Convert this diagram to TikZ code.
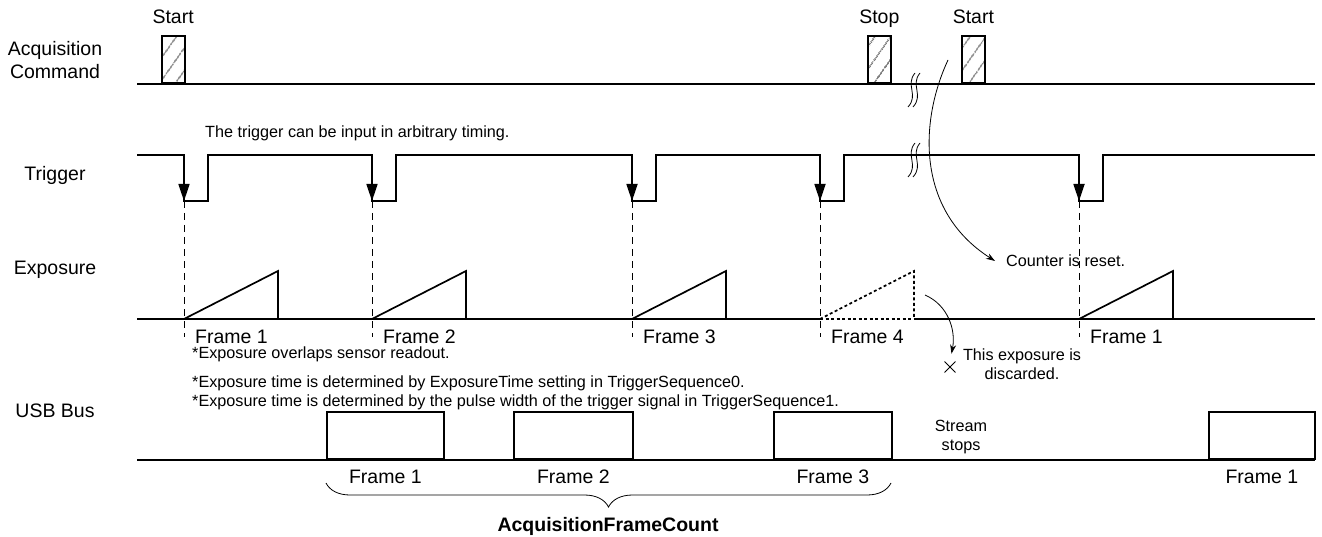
\documentclass[tikz,border=0pt]{standalone}
\usepackage{fontspec}
\setmainfont{Liberation Sans}
\usetikzlibrary{arrows.meta,positioning,patterns.meta,shapes.misc,decorations.pathreplacing}

\newcommand{\bigtxt}{\fontsize{19.5}{23}\selectfont}
\newcommand{\smalltxt}{\fontsize{16.2}{19}\selectfont}
% wavy break mark across a signal line
\newcommand{\brkmark}[2]{%
  \foreach \d in {0,5}
    \draw[brk] (#1+\d-5,#2+17) .. controls (#1+\d+6,#2+5) and (#1+\d-8,#2-5) .. (#1+\d+2,#2-17);}
% exposure ramp
\newcommand{\ramp}[2][sig]{\draw[#1] (#2,319) -- ++(94,-48) -- ++(0,48);}

\begin{document}
\begin{tikzpicture}[x=1pt, y=-1pt,
    sig/.style={line width=1.7pt},
    dots/.style={line width=1.7pt, dash pattern=on 3pt off 2.5pt},
    guide/.style={line width=0.9pt, dash pattern=on 7pt off 5pt},
    lbl/.style={font=\bigtxt, align=center, inner sep=0pt},
    note/.style={font=\smalltxt, align=center, inner sep=0pt},
    cmdpulse/.style={draw, line width=1.7pt, minimum width=23pt, minimum height=47pt, anchor=south west, inner sep=0pt,
      pattern={Lines[angle=55,distance=13pt,line width=1.3pt]}, pattern color=gray},
    usbframe/.style={draw, line width=1.7pt, minimum height=47pt, anchor=south west, inner sep=0pt},
    trig/.style={line width=1.7pt, -{Triangle[length=17pt,width=11pt]}},
    callout/.style={line width=0.8pt, -{Stealth[length=9pt,width=6pt]}},
    brk/.style={line width=0.8pt}
]
\useasboundingbox (0,0) rectangle (1322,537);

% Row labels
\node[lbl] (cmdlbl) at (55,60) {Acquisition\\Command};
\node[lbl] (triglbl) at (55,175) {Trigger};
\node[lbl] (explbl) at (55,270) {Exposure};
\node[lbl] (usblbl) at (55,411) {USB Bus};

% Acquisition command
\draw[sig] (137,84) -- (1315,84);
\node[cmdpulse] (start1) at (161,84) {};
\node[cmdpulse] (stop) at (867,84) {};
\node[cmdpulse] (start2) at (961,84) {};
\node[lbl, text depth=0pt, above=12pt of start1] (start1lbl) {Start};
\node[lbl, text depth=0pt, above=12pt of stop] (stoplbl) {Stop};
\node[lbl, text depth=0pt, above=12pt of start2] (start2lbl) {Start};
\brkmark{913}{90}

% Trigger
\draw[sig] (137,155) \foreach \x in {184,372,632,820,1079} { -- (\x,155) -- (\x,201) -- (\x+24,201) -- (\x+24,155) } -- (1315,155);
\foreach \x in {184,372,632,820,1079} {
  \draw[trig] (\x,155) -- (\x,201);
  \draw[guide] (\x,201) -- (\x,337);
}
\brkmark{913}{160}
\node[note, anchor=base west] (arb) at (205,138) {The trigger can be input in arbitrary timing.};

% Exposure
\draw[sig] (137,319) -- (820,319) (914,319) -- (1315,319);
\draw[dots] (820,319) -- (914,319);
\foreach \x in {184,372,632,1079} {\ramp{\x}}
\ramp[dots]{820}
\foreach \x/\n in {184/1,372/2,632/3,820/4,1079/1}
  \node[lbl, anchor=base west] (ef\x) at (\x+11,343) {Frame \n};
\node[note, anchor=base west] (note1) at (192,358) {*Exposure overlaps sensor readout.};
\node[note, anchor=base west] (note2) at (192,387) {*Exposure time is determined by ExposureTime setting in TriggerSequence0.};
\node[note, anchor=base west] (note3) at (192,406) {*Exposure time is determined by the pulse width of the trigger signal in TriggerSequence1.};

% Counter reset callout
\coordinate (cnt) at (948,60);
\node[note, anchor=west, inner xsep=11pt] (reset) at (995,261) {Counter is reset.};
\draw[callout] (cnt) .. controls (920,120) and (915,210) .. (reset.west);

% Discarded exposure callout
\coordinate (dsc) at (925,295);
\node[draw, cross out, minimum size=10pt, inner sep=0pt, line width=0.9pt] (xmark) at (950,367) {};
\draw[callout, shorten >=8pt] (dsc) .. controls (948,305) and (956,330) .. (xmark.north);
\node[note] (discard) at (1022,364) {This exposure is\\discarded.};

% USB bus
\draw[sig] (137,460) -- (1315,460);
\node[usbframe, minimum width=117pt] (usb1) at (326,460) {};
\node[usbframe, minimum width=119pt] (usb2) at (513,460) {};
\node[usbframe, minimum width=118pt] (usb3) at (773,460) {};
\node[usbframe, minimum width=106pt] (usb4) at (1208,460) {};
\node[lbl, below=10pt of usb1] (uf1) {Frame 1};
\node[lbl, below=10pt of usb2] (uf2) {Frame 2};
\node[lbl, below=10pt of usb3] (uf3) {Frame 3};
\node[lbl, below=10pt of usb4] (uf4) {Frame 1};
\node[note] (stream) at (961,437) {Stream\\stops};

% Frame count brace
\draw[decorate, decoration={brace, mirror, amplitude=24pt}, line width=0.8pt] (326,483) -- (891,483);
\node[lbl, font=\bigtxt\bfseries] (afc) at (608,526) {AcquisitionFrameCount};

\end{tikzpicture}
\end{document}
